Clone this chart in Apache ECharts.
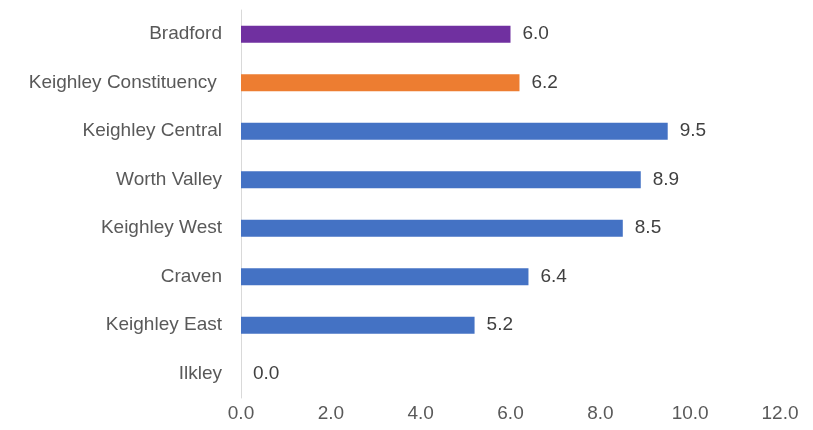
<!DOCTYPE html>
<html>
<head>
<meta charset="utf-8">
<script src="https://cdn.jsdelivr.net/npm/echarts@6/dist/echarts.min.js"></script>
<style>html,body{margin:0;padding:0;background:#fff}#c{width:813px;height:430px}</style>
</head>
<body>
<div id="c"></div>
<script>
const categories = ["Bradford","Keighley Constituency ","Keighley Central","Worth Valley","Keighley West","Craven","Keighley East","Ilkley"];
const values = [6.0, 6.2, 9.5, 8.9, 8.5, 6.4, 5.2, 0.0];
const barColors = ["#7030A0","#ED7D31","#4472C4","#4472C4","#4472C4","#4472C4","#4472C4","#4472C4"];
const xTicks = {min: 0, max: 12, interval: 2};

const chart = echarts.init(document.getElementById('c'), null, {renderer: 'canvas'});
const font = 'Liberation Sans, Arial, sans-serif';
const fs = 19;
chart.setOption({
  animation: false,
  grid: {left: 241, right: 33, top: 10, bottom: 32, containLabel: false},
  xAxis: {
    type: 'value', min: xTicks.min, max: xTicks.max, interval: xTicks.interval,
    axisLine: {show: false}, axisTick: {show: false}, splitLine: {show: false},
    axisLabel: {color: '#595959', fontSize: fs, fontFamily: font, margin: 6,
      formatter: v => v.toFixed(1)}
  },
  yAxis: {
    type: 'category', data: categories, inverse: true,
    axisLine: {show: true, lineStyle: {color: '#D9D9D9', width: 1}},
    axisTick: {show: false},
    axisLabel: {color: '#595959', fontSize: fs, fontFamily: font, margin: 19, padding: [3, 0, 0, 0]}
  },
  series: [{
    type: 'bar',
    data: values.map((v, i) => ({value: v, itemStyle: {color: barColors[i]}})),
    barWidth: 17,
    label: {show: true, position: 'right', distance: 12, color: '#404040', fontSize: fs, fontFamily: font,
      padding: [3, 0, 0, 0], formatter: p => p.value.toFixed(1)}
  }]
});
</script>
</body>
</html>
